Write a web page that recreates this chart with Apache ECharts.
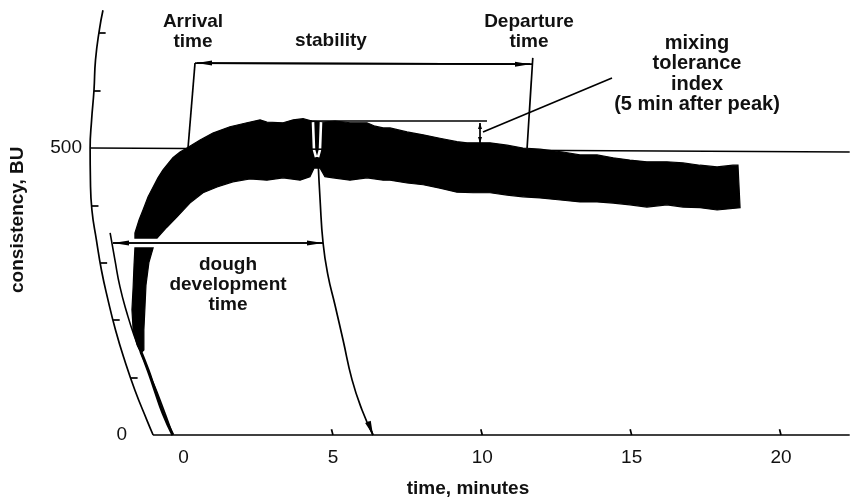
<!DOCTYPE html>
<html><head><meta charset="utf-8">
<script src="https://cdn.jsdelivr.net/npm/echarts@6/dist/echarts.min.js"></script>
<style>html,body{margin:0;padding:0;background:#fff}#c{width:850px;height:501px}</style>
</head><body><div id="c"></div>
<script>
// ---- axis ticks / labels ----
const timeTicks = [5, 10, 15, 20];
const timeLabels = [0, 5, 10, 15, 20];
const buLabelTop = [500];
const buLabelZero = [0];

// ---- farinogram band (time in minutes, consistency in BU) ----
const bandUpper = [[-1.63,352],[-1.49,375],[-1.36,392],[-1.19,415],[-1.02,432],[-0.86,448],[-0.69,462],[-0.36,483],[-0.12,493],[0.11,500],[0.55,514],[0.98,526],[1.55,537],[2.12,544],[2.56,549],[2.79,545],[3.33,544],[3.67,549],[4.00,551],[4.30,547],[4.67,545],[5.07,547],[5.57,544],[6.14,544],[6.41,538],[6.68,535],[6.91,535],[7.48,528],[8.02,523],[8.58,517],[9.15,511],[9.49,509],[9.86,509],[10.26,509],[10.83,505],[11.36,500],[11.93,498],[12.70,493],[13.27,488],[13.84,488],[14.38,483],[14.94,479],[15.51,476],[16.18,476],[16.72,474],[17.29,470],[17.86,467],[18.39,470],[18.56,470]];
const bandLower = [[-1.63,343],[-0.89,343],[-0.56,362],[-0.22,380],[0.21,404],[0.65,422],[1.12,432],[1.65,441],[2.22,446],[2.79,444],[3.33,448],[3.90,444],[4.23,450],[4.37,465],[4.57,465],[4.73,450],[5.00,448],[5.57,444],[6.14,448],[6.68,444],[6.91,444],[7.48,439],[8.02,436],[8.58,430],[9.15,423],[9.69,422],[10.26,422],[10.83,418],[11.36,415],[11.93,413],[12.70,409],[13.27,406],[13.84,406],[14.38,404],[14.94,401],[15.51,397],[16.18,401],[16.72,397],[17.29,396],[17.86,392],[18.63,396]];
const tailLeft = [[-1.63,326],[-1.66,296],[-1.69,258],[-1.73,218],[-1.69,183],[-1.56,157],[-1.43,143]];
const tailRight = [[-1.33,148],[-1.33,183],[-1.29,227],[-1.26,261],[-1.16,301],[-1.02,326]];
const traceLine = [[-1.43,145],[-1.19,113],[-0.96,78],[-0.69,38],[-0.36,0]];

// ---- pen arcs ----
const penArcOuter = [[-2.70,740],[-2.82,706],[-2.95,653],[-3.00,601],[-3.08,549],[-3.13,500],[-3.12,444],[-3.07,392],[-2.92,340],[-2.75,287],[-2.53,235],[-2.28,183],[-1.98,131],[-1.63,78],[-1.23,26],[-1.02,0]];
const penArcInner = [[-2.46,352],[-2.30,305],[-2.13,258],[-1.90,213],[-1.66,174],[-1.39,139],[-1.13,105],[-0.79,61],[-0.36,0]];
const arcTicks = [[-2.83,700],[-3.00,600],[-3.07,400],[-2.78,300],[-2.36,200],[-1.76,100]];
const ddtArc = [[4.50,479],[4.57,409],[4.67,334],[4.83,279],[5.07,226],[5.34,165],[5.64,96],[5.97,44],[6.34,0]];

// ---- annotation lines ----
const baseLine = [[-1.024,0],[22.30,0]];
const line500 = [[-3.10,500],[22.30,493]];
const arrivalLine = [[0.148,500],[0.382,648]];
const departureLine = [[11.69,657],[11.50,500]];
const stabilityBar = [[0.382,648],[11.69,646]];
const stabilityArrow = [[0.449,648],[11.597,646]];
const ddtArrow = [[-2.364,334.5],[4.667,334.5]];
const peakLine = [[4.17,547],[10.157,547]];
const mtiArrow = [[9.923,543.6],[9.923,508.7]];
const mtiPointer = [[10.023,528],[14.342,622]];
const ddtArrowTip = [[6.17,23],[6.34,0]];
const peakGapA = [[4.332,545],[4.365,497],[4.432,484]];
const peakGapB = [[4.600,545],[4.566,497],[4.499,484]];

const FONT = '"Liberation Sans", Arial, Helvetica, sans-serif';
const INK = '#111';

function plain(seg) { return [{coord: seg[0]}, {coord: seg[1]}]; }
function arrowEnd(sz) { return {symbol: 'triangle', symbolSize: sz, symbolOffset: [0, sz[1] / 2]}; }
function arrowed(seg, fromSz, toSz) {
  return [Object.assign({coord: seg[0]}, fromSz ? arrowEnd(fromSz) : {}),
          Object.assign({coord: seg[1]}, toSz ? arrowEnd(toSz) : {})];
}

const markData = [
  plain(baseLine), plain(line500), plain(arrivalLine), plain(departureLine), plain(stabilityBar),
  plain(ddtArrow), plain(peakLine), plain(mtiPointer),
  arrowed(stabilityArrow, [5, 15], [5, 15]),
  arrowed(ddtArrow, [5, 16], [5, 16]),
  arrowed(mtiArrow, [4, 6], [4, 6]),
  arrowed(ddtArrowTip, null, [6, 14])
].concat(arcTicks.map(p => plain([p, [p[0] + 0.22, p[1]]])))
 .concat(timeTicks.map(v => plain([[v, 0], [v - 0.05, 10]])));

function arcLine(data, width) {
  return {type: 'line', data: data, smooth: true, symbol: 'none', clip: false, silent: true,
          lineStyle: {color: '#000', width: width}, z: 3};
}

const chart = echarts.init(document.getElementById('c'));
chart.setOption({
  animation: false,
  backgroundColor: '#fff',
  grid: {left: 0, right: 0, top: 4.5, bottom: 66, containLabel: false, outerBoundsMode: 'none'},
  xAxis: {
    type: 'value', min: -6.147, max: 22.31,
    axisLine: {show: false, onZero: false},
    axisTick: {show: false},
    axisLabel: {customValues: timeLabels, fontSize: 19, color: INK, fontFamily: FONT, margin: 13},
    splitLine: {show: false},
    name: 'time, minutes', nameLocation: 'middle', nameGap: 44,
    nameTextStyle: {fontSize: 19, fontWeight: 'bold', color: INK, fontFamily: FONT, padding: [0, 0, 0, 86]}
  },
  yAxis: [{
    type: 'value', min: 0, max: 750, offset: -153,
    axisLine: {show: false, onZero: false}, axisTick: {show: false}, splitLine: {show: false},
    axisLabel: {customValues: buLabelTop, fontSize: 19, color: INK, fontFamily: FONT, margin: 71},
    name: 'consistency, BU', nameLocation: 'middle', nameGap: 126, nameRotate: 90,
    nameTextStyle: {fontSize: 19, fontWeight: 'bold', color: INK, fontFamily: FONT}
  }, {
    type: 'value', min: 0, max: 750, position: 'left', offset: -153,
    axisLine: {show: false, onZero: false}, axisTick: {show: false}, splitLine: {show: false},
    axisLabel: {customValues: buLabelZero, fontSize: 19, color: INK, fontFamily: FONT, margin: 26}
  }],
  series: [
    {
      type: 'custom', clip: false, silent: true, z: 2,
      data: [[0, 0]],
      renderItem: function (params, api) {
        const pts = arr => arr.map(p => api.coord(p));
        return {type: 'group', children: [
          {type: 'polygon', shape: {points: pts(bandUpper.concat(bandLower.slice().reverse()))}, style: {fill: '#000', stroke: '#000', lineWidth: 1.2}},
          {type: 'polygon', shape: {points: pts(tailLeft.concat(tailRight))}, style: {fill: '#000', stroke: '#000', lineWidth: 1.2}}
        ]};
      }
    },
    {type: 'line', data: peakGapA, symbol: 'none', clip: false, silent: true, lineStyle: {color: '#fff', width: 2.6}, z: 4},
    {type: 'line', data: peakGapB, symbol: 'none', clip: false, silent: true, lineStyle: {color: '#fff', width: 2.6}, z: 4},
    Object.assign(arcLine(penArcOuter, 1.7), {
      markLine: {
        silent: true, animation: false, symbol: ['none', 'none'], precision: 4,
        label: {show: false}, emphasis: {disabled: true},
        lineStyle: {color: '#000', type: 'solid', width: 1.7},
        data: markData
      }
    }),
    arcLine(penArcInner, 1.6),
    arcLine(traceLine, 3),
    arcLine(ddtArc, 1.7)
  ],
  graphic: {elements: [
    {type: 'text', x: 193, y: 32, style: {text: 'Arrival\ntime', fill: INK, fontSize: 19, fontWeight: 'bold', fontFamily: FONT, align: 'center', verticalAlign: 'middle', lineHeight: 20}},
    {type: 'text', x: 331, y: 41, style: {text: 'stability', fill: INK, fontSize: 19, fontWeight: 'bold', fontFamily: FONT, align: 'center', verticalAlign: 'middle', lineHeight: 20}},
    {type: 'text', x: 529, y: 32, style: {text: 'Departure\ntime', fill: INK, fontSize: 19, fontWeight: 'bold', fontFamily: FONT, align: 'center', verticalAlign: 'middle', lineHeight: 20}},
    {type: 'text', x: 697, y: 74, style: {text: 'mixing\ntolerance\nindex\n(5 min after peak)', fill: INK, fontSize: 20, fontWeight: 'bold', fontFamily: FONT, align: 'center', verticalAlign: 'middle', lineHeight: 20.5}},
    {type: 'text', x: 228, y: 285, style: {text: 'dough\ndevelopment\ntime', fill: INK, fontSize: 19, fontWeight: 'bold', fontFamily: FONT, align: 'center', verticalAlign: 'middle', lineHeight: 20}}
  ]}
});
</script>
</body></html>
